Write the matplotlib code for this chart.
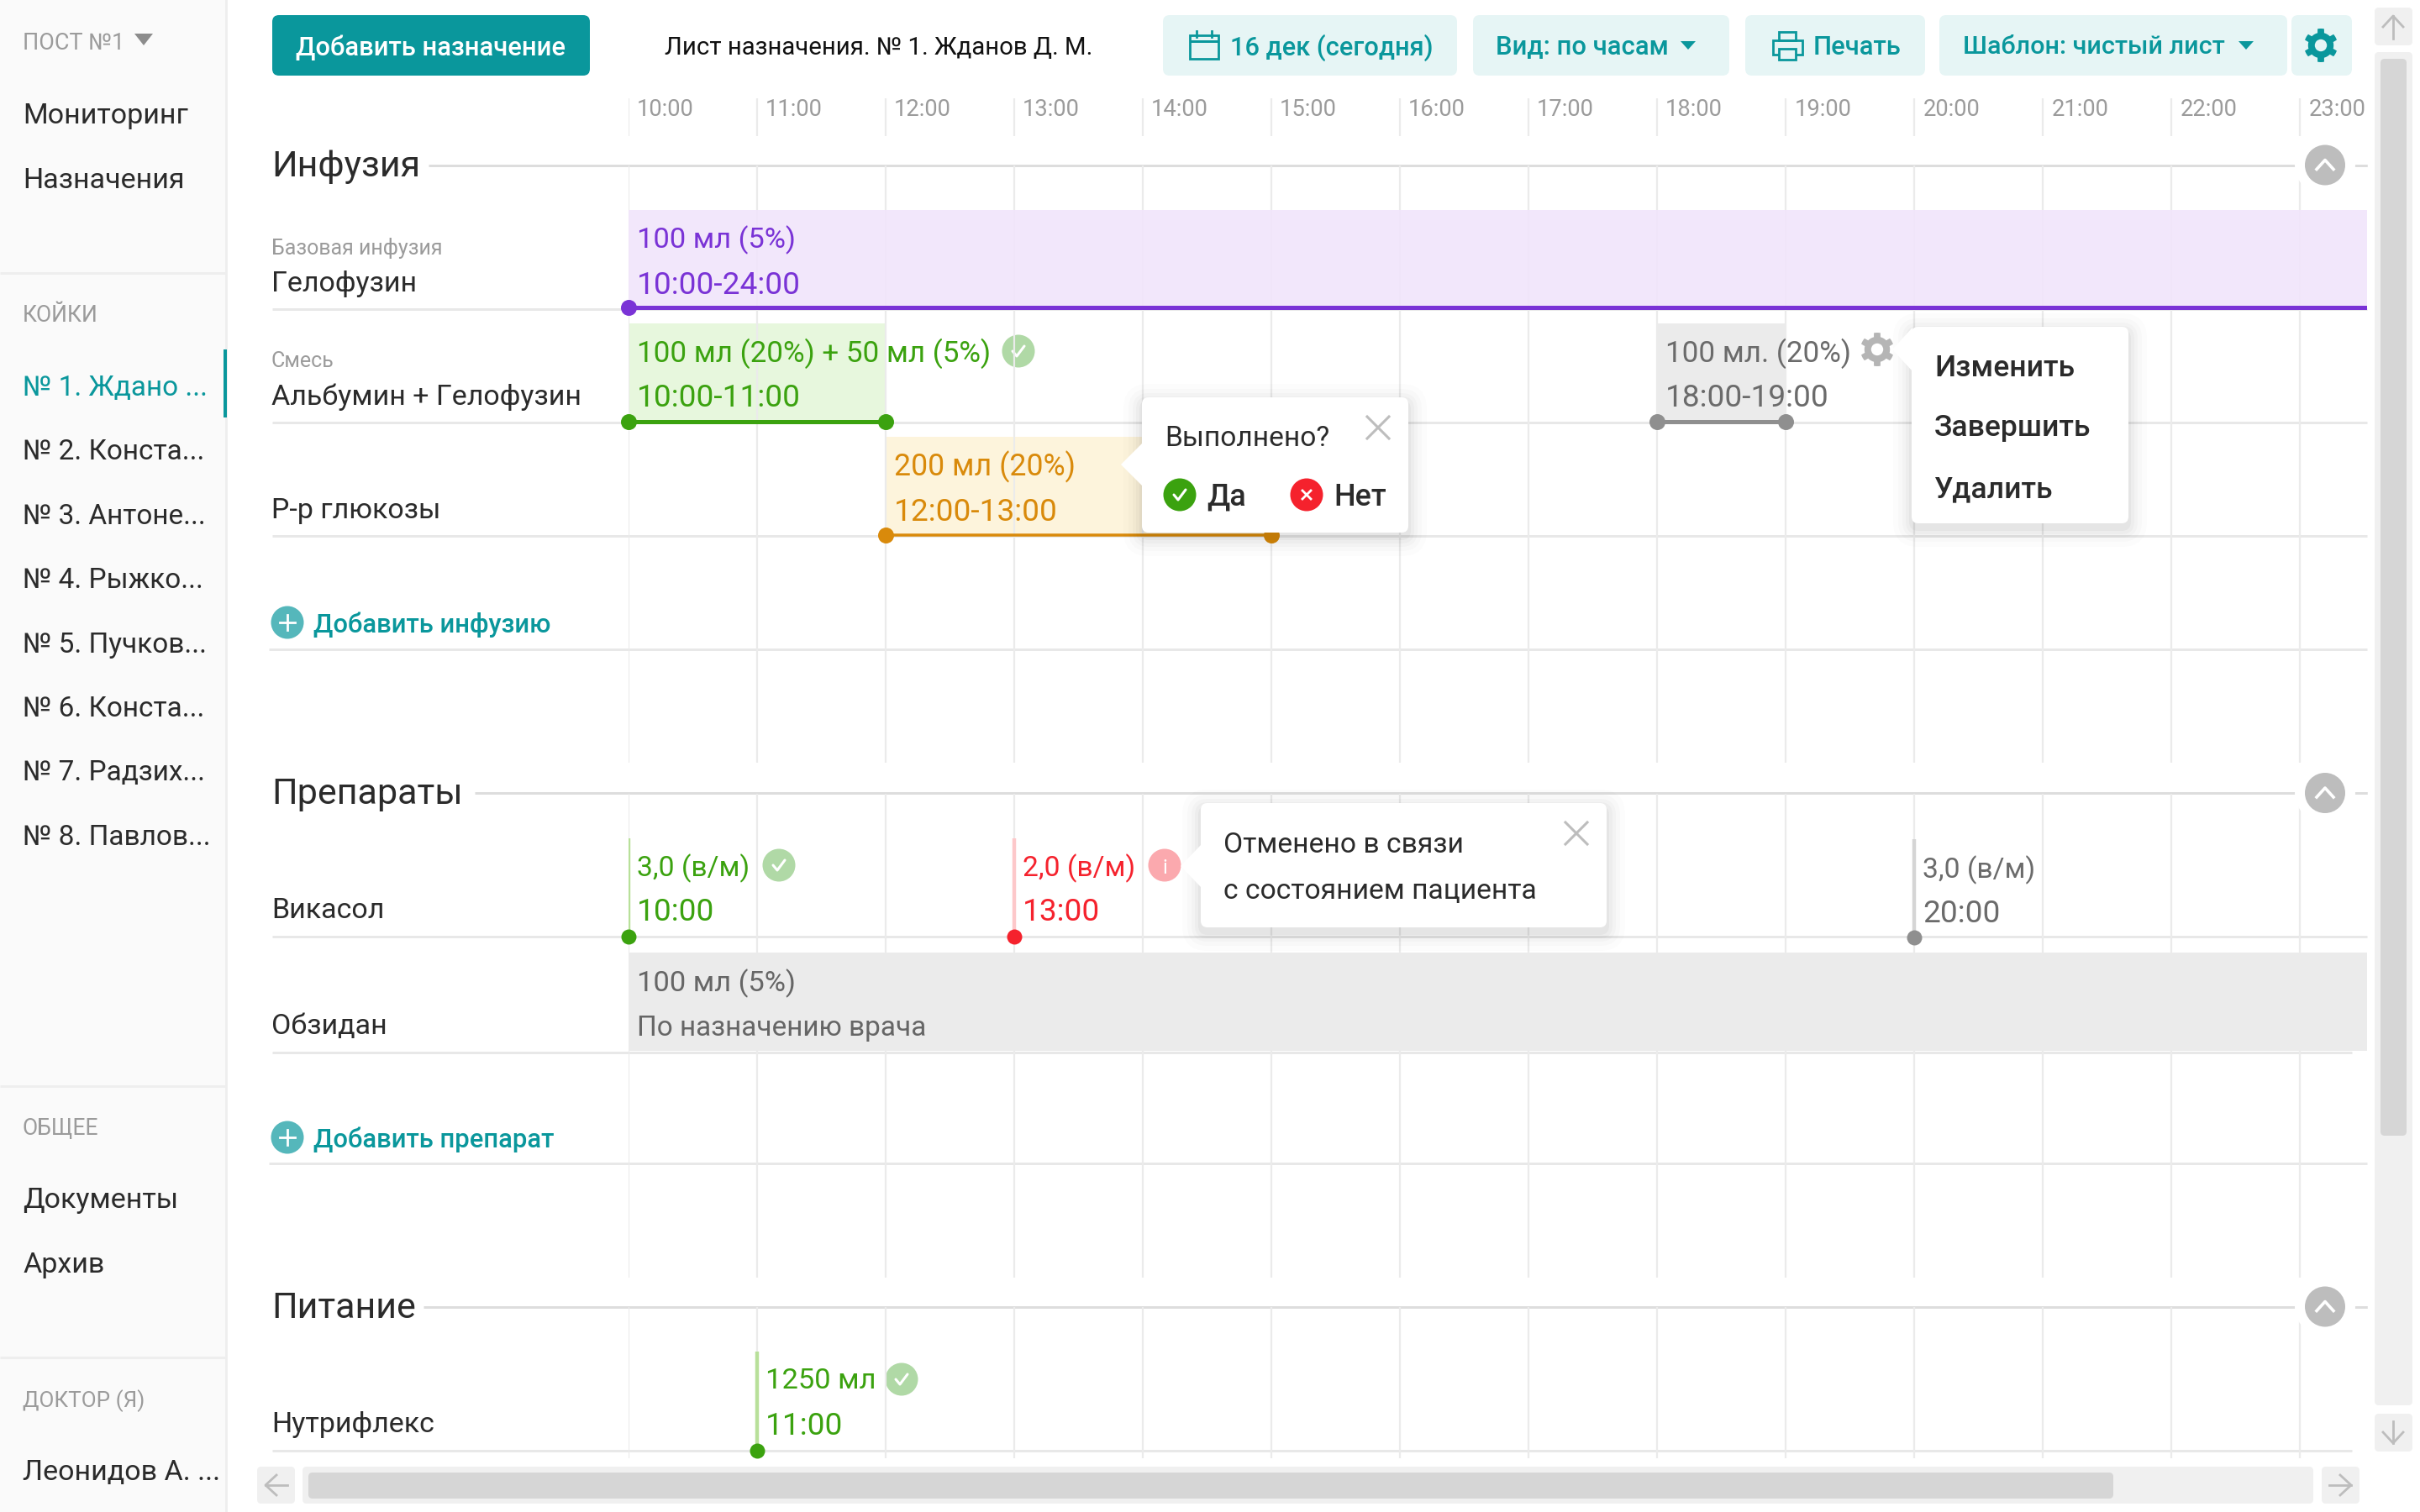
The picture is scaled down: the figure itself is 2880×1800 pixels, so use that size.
import numpy as np
import matplotlib
matplotlib.use("Agg")
import matplotlib.pyplot as plt
from matplotlib.patches import FancyBboxPatch, Circle, Rectangle, Polygon

plt.rcParams["font.family"] = ["Roboto", "DejaVu Sans"]

# chart values
HOURS = list(range(10, 24))
HOUR_LABELS = [f"{h}:00" for h in HOURS]
BEDS = ["№ 1. Ждано ...", "№ 2. Конста...", "№ 3. Антоне...", "№ 4. Рыжко...",
        "№ 5. Пучков...", "№ 6. Конста...", "№ 7. Радзих...", "№ 8. Павлов..."]

# hour bars: start, end, top text, bottom text
BAR_START = [10, 10, 12, 18, 10]
BAR_END = [23.52, 12, 15, 19, 23.52]
BAR_TOP = ["100 мл (5%)", "100 мл (20%) + 50 мл (5%)", "200 мл (20%)", "100 мл. (20%)", "100 мл (5%)"]
BAR_BOTTOM = ["10:00-24:00", "10:00-11:00", "12:00-13:00", "18:00-19:00", "По назначению врача"]

# single doses
DOSE_HOUR = [10, 13, 20, 11]
DOSE_TOP = ["3,0 (в/м)", "2,0 (в/м)", "3,0 (в/м)", "1250 мл"]
DOSE_BOTTOM = ["10:00", "13:00", "20:00", "11:00"]

TEAL = "#0a979c"
TEAL_BG = "#e6f5f5"
GRID = "#ebebeb"
LINE = "#e8e8e8"
GREY_TXT = "#9b9b9b"
DARK = "#2b2b2b"
PURPLE, PURPLE_BG = "#7a33d6", "#f1e5fb"
GREEN, GREEN_BG = "#3ba20f", "#e7f7dd"
ORANGE, ORANGE_BG = "#d98a0b", "#fdf4dc"
RED = "#f5222d"
GREY, GREY_BG = "#8f8f8f", "#ebebeb"

fig = plt.figure(figsize=(28.8, 18), dpi=100, facecolor="white")


def pixel_axes(z):
    a = fig.add_axes([0, 0, 1, 1], zorder=z)
    a.set_xlim(0, 2880)
    a.set_ylim(1800, 0)
    a.axis("off")
    return a


base = pixel_axes(0)
top = pixel_axes(2)

# the time axis: x in hours, y in the same pixels as the page
x0, x1 = 747.5, 2817
tl = fig.add_axes([x0 / 2880, 0, (x1 - x0) / 2880, 1], zorder=1)
tl.set_xlim(10, 10 + (x1 - x0) / 153.04)
tl.set_ylim(1800, 0)
tl.axis("off")


def txt(ax, x, y, s, px, color=DARK, weight="normal", ha="left"):
    return ax.text(x, y - 0.5, s, fontsize=px * 0.72, color=color, weight=weight, ha=ha,
                   va="center_baseline", clip_on=False)


def hour_txt(h, y, s, px, color, z=6):
    tl.annotate(s, (h, y - 0.5), xytext=(7.5, 0), textcoords="offset points", fontsize=px * 0.72,
                color=color, va="center_baseline", annotation_clip=False, zorder=z)


def box(ax, x, y, x2, y2, color, r=8, z=1, alpha=1):
    p = FancyBboxPatch((x + r, y + r), x2 - x - 2 * r, y2 - y - 2 * r,
                       boxstyle=f"round,pad={r},rounding_size={r}", fc=color, ec="none",
                       zorder=z, alpha=alpha)
    ax.add_patch(p)


def hline(ax, x, x2, y, color=LINE, px=3, z=1):
    ax.plot([x, x2], [y, y], color=color, lw=px * 0.72, solid_capstyle="butt", zorder=z)


def dot(ax, x, y, r, color, z=5):
    ax.add_patch(Circle((x, y), r, fc=color, ec="none", zorder=z))


def tri_down(ax, cx, cy, w, h, color):
    ax.add_patch(Polygon([(cx - w, cy - h), (cx + w, cy - h), (cx, cy + h)], fc=color, ec="none", zorder=3))


def gear(ax, cx, cy, r, color, hole="white", z=5):
    ang = np.linspace(0, 2 * np.pi, 97)[:-1]
    rad = np.where(np.cos(6 * ang) > 0.1, r, r * 0.76)
    ax.add_patch(Polygon(np.c_[cx + rad * np.sin(ang), cy + rad * np.cos(ang)], fc=color, ec="none", zorder=z))
    ax.add_patch(Circle((cx, cy), r * 0.36, fc=hole, ec="none", zorder=z + 1))


def check_icon(ax, cx, cy, bg, z=5, r=19.5):
    dot(ax, cx, cy, r, bg, z)
    ax.plot([cx - 7, cx - 2, cx + 7], [cy, cy + 6, cy - 6], color="white", lw=2.2, zorder=z + 1,
            solid_capstyle="round", solid_joinstyle="round")


def cross(ax, cx, cy, s, color, lw=2.2, z=6):
    ax.plot([cx - s, cx + s], [cy - s, cy + s], color=color, lw=lw, zorder=z)
    ax.plot([cx - s, cx + s], [cy + s, cy - s], color=color, lw=lw, zorder=z)


def popup(x, y, x2, y2, ay, ax_tip):
    for grow, a in [(22, 0.012), (16, 0.015), (11, 0.02), (7, 0.025), (3, 0.03)]:
        box(top, x - grow, y - grow + 6, x2 + grow, y2 + grow + 6, "black", r=8 + grow, z=3, alpha=a)
    box(top, x, y, x2, y2, "white", r=8, z=4)
    top.add_patch(Polygon([(x + 1, ay - 26), (ax_tip, ay), (x + 1, ay + 26)], fc="white", ec="none", zorder=4))


# --- sidebar ---
base.add_patch(Rectangle((0, 0), 268, 1800, fc="#fafafa", ec="none", zorder=0))
base.plot([269, 269], [0, 1800], color="#eeeeee", lw=2, zorder=1)
txt(base, 27, 49, "ПОСТ №1", 27, GREY_TXT)
tri_down(base, 171, 47, 11, 7, "#8c8c8c")
txt(base, 27, 135, "Мониторинг", 34)
txt(base, 27, 212, "Назначения", 34)
hline(base, 0, 268, 325, "#eeeeee")
txt(base, 27, 373, "КОЙКИ", 26.5, GREY_TXT)
base.add_patch(Rectangle((266, 416), 4, 81, fc=TEAL, ec="none", zorder=3))
for i, bed in enumerate(BEDS):
    txt(base, 27, 459 + i * 76.4, bed, 33.4, TEAL if i == 0 else DARK)
hline(base, 0, 268, 1293, "#eeeeee")
txt(base, 27, 1341, "ОБЩЕЕ", 26.5, GREY_TXT)
txt(base, 27, 1426, "Документы", 34)
txt(base, 27, 1503, "Архив", 34)
hline(base, 0, 268, 1616, "#eeeeee")
txt(base, 27, 1665, "ДОКТОР (Я)", 26, GREY_TXT)
txt(base, 27, 1750, "Леонидов А. ...", 34)

# --- toolbar ---
box(base, 324, 18, 702, 90, TEAL)
txt(base, 513, 54, "Добавить назначение", 31, "white", "medium", "center")
txt(base, 791, 54, "Лист назначения. № 1. Жданов Д. М.", 29.4, "#111111")
box(base, 1384, 18, 1734, 90, TEAL_BG)
base.add_patch(Rectangle((1416, 42), 34, 28, fc="none", ec=TEAL, lw=2))
hline(base, 1416, 1450, 49, TEAL, 3, 3)
base.plot([1424, 1424], [37, 44], color=TEAL, lw=2, zorder=3)
base.plot([1442, 1442], [37, 44], color=TEAL, lw=2, zorder=3)
txt(base, 1464, 54, "16 дек (сегодня)", 30.8, TEAL, "medium")
box(base, 1753, 18, 2058, 90, TEAL_BG)
txt(base, 1780, 54, "Вид: по часам", 31, TEAL, "medium")
tri_down(base, 2009, 54, 9, 5, TEAL)
box(base, 2077, 18, 2291, 90, TEAL_BG)
base.add_patch(Rectangle((2110, 48), 35, 17, fc="none", ec=TEAL, lw=2, zorder=3))
base.add_patch(Rectangle((2117, 38), 20, 10, fc="none", ec=TEAL, lw=2, zorder=3))
base.add_patch(Rectangle((2117, 58), 20, 13, fc=TEAL_BG, ec=TEAL, lw=2, zorder=4))
txt(base, 2158, 54, "Печать", 31, TEAL, "medium")
box(base, 2308, 18, 2722, 90, TEAL_BG)
txt(base, 2336, 54, "Шаблон: чистый лист", 30.5, TEAL, "medium")
tri_down(base, 2673, 54, 9, 5, TEAL)
box(base, 2727, 18, 2799, 90, TEAL_BG)
gear(base, 2762, 54, 20, TEAL, TEAL_BG)

# --- grid on the time axis ---
for h, lab in zip(HOURS, HOUR_LABELS):
    tl.vlines(h, 117, 162, color=GRID, lw=1.6, zorder=1)
    for a, b in [(197, 908), (945, 1521), (1556, 1736)]:
        tl.vlines(h, a, b, color=GRID, lw=1.6, zorder=1)
    hour_txt(h, 127.5, lab, 27.4, GREY_TXT, 2)

# --- sections ---
for title, y, start in [("Инфузия", 196.5, 510), ("Препараты", 944, 565), ("Питание", 1555.5, 504)]:
    txt(base, 323, y - 2, title, 43, DARK)
    hline(base, start, 2817, y, "#dddddd", 3, 2)
    dot(top, 2767, y, 36, "white", 1.5)
    hline(top, 2803, 2817, y, "#dddddd", 3, 1.6)
    dot(top, 2767, y, 24, "#bdbdbd", 2)
    top.plot([2757, 2767, 2777], [y + 5, y - 6, y + 5], color="white", lw=2.6, zorder=2.1)

# --- row captions and lines ---
for cap, y in [("Гелофузин", 335), ("Альбумин + Гелофузин", 470), ("Р-р глюкозы", 605),
               ("Викасол", 1081), ("Обзидан", 1219), ("Нутрифлекс", 1693)]:
    txt(base, 323, y, cap, 34)
txt(base, 323, 293, "Базовая инфузия", 25, GREY_TXT)
txt(base, 323, 428, "Смесь", 25, GREY_TXT)
for y, a, b in [(368, 324, 2817), (503, 324, 2817), (638, 324, 2817), (773, 320, 2817),
                (1115, 324, 2817), (1253, 324, 2799), (1385, 320, 2817), (1727, 324, 2799)]:
    hline(base, a, b, y, LINE, 3, 2)

# add buttons
for y, label in [(741, "Добавить инфузию"), (1354, "Добавить препарат")]:
    dot(base, 342, y, 19.5, "#55b7bb", 3)
    base.plot([333, 351], [y, y], color="white", lw=2, zorder=4)
    base.plot([342, 342], [y - 9, y + 9], color="white", lw=2, zorder=4)
    txt(base, 373, y, label, 31, TEAL, "medium")

# --- hour bars ---
bar_y = [(250, 366), (385, 502), (520, 637), (385, 502)]
bar_c = [(PURPLE, PURPLE_BG), (GREEN, GREEN_BG), (ORANGE, ORANGE_BG), (GREY, GREY_BG)]
bar_lw = [5, 5, 3.5, 5]
bar_txt = [(282, 336), (417, 471), (552, 606), (417, 471)]
top_px = [34.5, 35, 35.7, 35]
for i in range(4):
    a, b = BAR_START[i], BAR_END[i]
    band_end = 12 if i == 1 else b
    tl.axvspan(a, band_end, ymin=1 - bar_y[i][1] / 1800, ymax=1 - bar_y[i][0] / 1800,
               fc=bar_c[i][1], ec="none", zorder=0.5 if i != 0 else 2, alpha=1 if i != 0 else 0.9)
    tl.plot([a, b], [bar_y[i][1]] * 2, color=bar_c[i][0], lw=bar_lw[i] * 0.72, zorder=5.5, solid_capstyle="butt")
    tl.plot([a], [bar_y[i][1]], "o", color=bar_c[i][0], ms=19 * 0.72, mew=0, zorder=5, clip_on=False)
    if i != 0:
        tl.plot([b], [bar_y[i][1]], "o", color=bar_c[i][0], ms=19 * 0.72, mew=0, zorder=5, clip_on=False)
    text_c = bar_c[i][0] if i != 3 else "#6b6b6b"
    hour_txt(a, bar_txt[i][0], BAR_TOP[i], top_px[i], text_c)
    hour_txt(a, bar_txt[i][1], BAR_BOTTOM[i], 37, text_c)

# prescription band for Обзидан
tl.axvspan(BAR_START[4], BAR_END[4], ymin=1 - 1251 / 1800, ymax=1 - 1134 / 1800, fc=GREY_BG, ec="none", zorder=3)
hour_txt(BAR_START[4], 1167, BAR_TOP[4], 34.5, "#666666")
hour_txt(BAR_START[4], 1221, BAR_BOTTOM[4], 33.4, "#666666")

# status icons next to bars
check_icon(base, 1212, 418, "#b0d9a6")
dot(base, 1314, 553, 19.5, "#edc98a")
txt(base, 1314, 554, "?", 24, "white", "normal", "center").set_zorder(6)
gear(top, 2234, 416, 20, "#b5b5b5")

# --- single doses ---
dose_y = [(998, 1115), (998, 1115), (999, 1116), (1609, 1727)]
dose_txt = [(1030, 1083), (1030, 1083), (1032, 1085), (1641, 1695)]
dose_c = [(GREEN, "#b8e09a"), (RED, "#fdc8ca"), (GREY, "#d5d5d5"), (GREEN, "#b8e09a")]
dose_tc = [GREEN, RED, "#6b6b6b", GREEN]
dose_px = [33.7, 33.7, 33.7, 34.5]
for i, h in enumerate(DOSE_HOUR):
    tl.vlines(h, dose_y[i][0], dose_y[i][1], color=dose_c[i][1], lw=3.2, zorder=4)
    tl.plot([h], [dose_y[i][1]], "o", color=dose_c[i][0], ms=18 * 0.72, mew=0, zorder=5, clip_on=False)
    hour_txt(h, dose_txt[i][0], DOSE_TOP[i], dose_px[i], dose_tc[i])
    hour_txt(h, dose_txt[i][1], DOSE_BOTTOM[i], 37, dose_tc[i])
check_icon(base, 927, 1030, "#b0d9a6")
dot(base, 1386, 1030, 19.5, "#fba9ae")
txt(base, 1386, 1031, "i", 24, "white", "normal", "center").set_zorder(6)
check_icon(base, 1073, 1642, "#b0d9a6")

# --- popups ---
popup(1359, 473, 1676, 634, 553, 1334)
txt(top, 1386, 519, "Выполнено?", 33.5).set_zorder(6)
cross(top, 1640, 509, 13, "#bdbdbd")
check_icon(top, 1404, 589, GREEN, z=6)
txt(top, 1436, 589, "Да", 36, DARK, "medium").set_zorder(6)
dot(top, 1555, 589, 19.5, RED, 6)
cross(top, 1555, 589, 5, "white", 2, 7)
txt(top, 1587, 589, "Нет", 36, DARK, "medium").set_zorder(6)

popup(2275, 389, 2533, 623, 416, 2252)
for y, s in [(435, "Изменить"), (507, "Завершить"), (580, "Удалить")]:
    txt(top, 2302, y, s, 35.5, DARK, "medium").set_zorder(6)

popup(1429, 956, 1912, 1104, 1031, 1405)
txt(top, 1456, 1003, "Отменено в связи", 33.6).set_zorder(6)
txt(top, 1456, 1058, "с состоянием пациента", 33.6).set_zorder(6)
cross(top, 1876, 992, 13, "#bdbdbd")

# --- scrollbars ---
ARROW = "#bdbdbd"
box(base, 2826, 9, 2871, 54, "#f0f0f0", 5)
base.plot([2848, 2848], [19, 46], color=ARROW, lw=2, zorder=3)
base.plot([2836, 2848, 2860], [32, 19, 32], color=ARROW, lw=2, zorder=3)
box(base, 2826, 62, 2871, 1673, "#f0f0f0", 5)
box(base, 2833, 70, 2864, 1352, "#d6d6d6", 5, 2)
box(base, 2826, 1683, 2871, 1728, "#f0f0f0", 5)
base.plot([2848, 2848], [1692, 1718], color=ARROW, lw=2, zorder=3)
base.plot([2836, 2848, 2860], [1705, 1718, 1705], color=ARROW, lw=2, zorder=3)
box(base, 306, 1746, 351, 1790, "#f0f0f0", 5)
base.plot([316, 342], [1768, 1768], color=ARROW, lw=2, zorder=3)
base.plot([329, 316, 329], [1756, 1768, 1780], color=ARROW, lw=2, zorder=3)
box(base, 360, 1746, 2753, 1790, "#f0f0f0", 5)
box(base, 367, 1753, 2515, 1784, "#d6d6d6", 5, 2)
box(base, 2763, 1746, 2808, 1790, "#f0f0f0", 5)
base.plot([2772, 2798], [1768, 1768], color=ARROW, lw=2, zorder=3)
base.plot([2785, 2798, 2785], [1756, 1768, 1780], color=ARROW, lw=2, zorder=3)

fig.savefig("out.png", dpi=100)
